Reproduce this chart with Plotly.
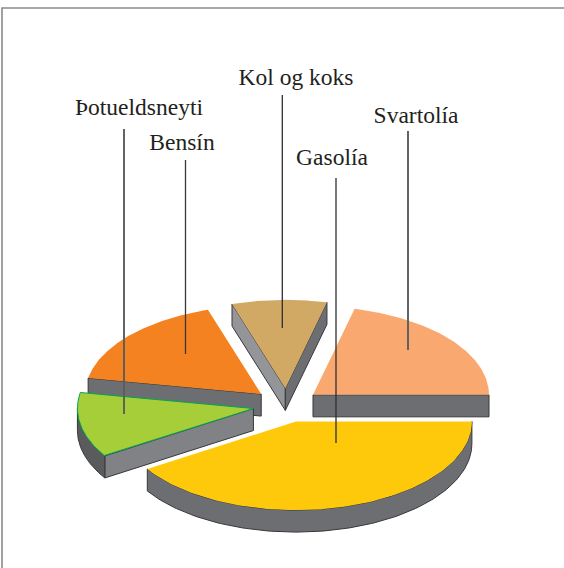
import numpy as np
import plotly.graph_objects as go

# --- data (share of total, %) in clockwise order starting at 3 o'clock
categories = ["Gasolía", "Þotueldsneyti", "Bensín", "Kol og koks", "Svartolía"]
shares = [41.0, 11.9, 17.2, 8.7, 21.2]

# --- styles
top_colors = ["#FFC90B", "#A6CE39", "#F58220", "#D1A965", "#F9A870"]
top_lines = [None, "#00A651", None, None, None]
start_wall = [None, "#808285", "#6D6E71", "#939598", None]
end_wall = [None, None, None, "#6D6E71", "#6D6E71"]
rim_colors = ["#6D6E71", "#5A5B5D", None, None, None]
paint_order = [3, 4, 2, 1, 0]

# --- layout of the projected pie (px)
W, H = 564, 568
CX, CY, RX, RY, DEPTH, EXPLODE = 286.5, 405.3, 176.0, 88.5, 22.0, 33.7
OUTLINE = "#38383A"

labels = {
    "Gasolía": (332, 159.5),
    "Þotueldsneyti": (139, 109.5),
    "Bensín": (182, 144.5),
    "Kol og koks": (296, 79.5),
    "Svartolía": (416, 117.5),
}
leaders = {
    "Gasolía": (336, 178, 443, "#2f2f31", 1.3),
    "Þotueldsneyti": (124, 129, 414, "#5c5c5e", 1.9),
    "Bensín": (185.5, 160, 354, "#38383a", 1.3),
    "Kol og koks": (282.3, 95, 328, "#2f2f31", 1.3),
    "Svartolía": (408, 131, 350, "#5c5c5e", 1.9),
}

fig = go.Figure()


def poly(xs, ys, fill, line, width):
    fig.add_trace(go.Scatter(x=list(xs), y=list(ys), mode="lines", fill="toself",
                             fillcolor=fill, line=dict(color=line or fill, width=width),
                             hoverinfo="skip", showlegend=False))


edges = np.cumsum([0] + shares) / sum(shares) * 2 * np.pi
for i in paint_order:
    a0, a1 = edges[i], edges[i + 1]
    mid = (a0 + a1) / 2
    ax = CX + EXPLODE * np.cos(mid)
    ay = CY + EXPLODE * RY / RX * np.sin(mid)
    t = np.linspace(a0, a1, 120)
    px = ax + RX * np.cos(t)
    py = ay + RY * np.sin(t)
    # radial walls
    if start_wall[i]:
        ex, ey = px[0], py[0]
        poly([ax, ex, ex, ax, ax], [ay, ey, ey + DEPTH, ay + DEPTH, ay], start_wall[i], OUTLINE, 1)
    if end_wall[i]:
        ex, ey = px[-1], py[-1]
        poly([ax, ex, ex, ax, ax], [ay, ey, ey + DEPTH, ay + DEPTH, ay], end_wall[i], OUTLINE, 1)
    # outer rim
    if rim_colors[i]:
        lo, hi = a0, min(a1, np.pi)
        r = np.linspace(lo, hi, 120)
        rx = ax + RX * np.cos(r)
        ry = ay + RY * np.sin(r)
        poly(np.r_[rx, rx[::-1], rx[0]], np.r_[ry, ry[::-1] + DEPTH, ry[0]], rim_colors[i], OUTLINE, 1)
    # top face
    poly(np.r_[ax, px, ax], np.r_[ay, py, ay], top_colors[i], top_lines[i],
         1 if top_lines[i] else 0)

# leader lines and labels
for name in categories:
    x, y0, y1, col, w = leaders[name]
    fig.add_trace(go.Scatter(x=[x, x], y=[y0, y1], mode="lines", line=dict(color=col, width=w),
                             hoverinfo="skip", showlegend=False))
    lx, ly = labels[name]
    fig.add_trace(go.Scatter(x=[lx], y=[ly], mode="text", text=[name], textposition="middle center",
                             textfont=dict(family="Liberation Serif", size=23.5, color="#231F20"),
                             hoverinfo="skip", showlegend=False))

fig.update_layout(
    width=W, height=H, margin=dict(l=0, r=0, t=0, b=0),
    paper_bgcolor="white", plot_bgcolor="white", showlegend=False,
    xaxis=dict(range=[0, W], visible=False, fixedrange=True),
    yaxis=dict(range=[H, 0], visible=False, fixedrange=True),
    shapes=[dict(type="path", path=f"M 2 {H} L 2 8 L {W} 8", xref="x", yref="y",
                 line=dict(color="#8A8A8A", width=1.6))],
)
fig.write_html("out.html", config={"displayModeBar": False},
               post_script="document.body.style.margin='0';document.body.style.overflow='hidden';")
